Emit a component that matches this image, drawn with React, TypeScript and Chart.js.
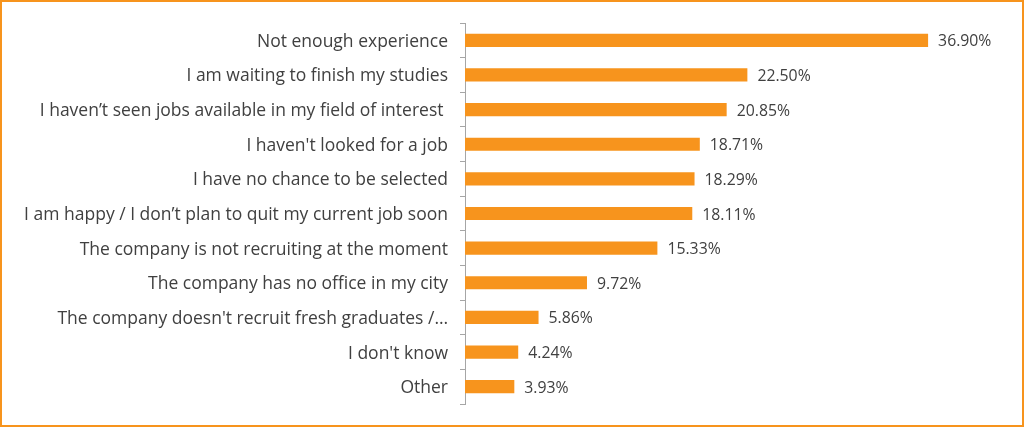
import React, { useEffect, useRef } from "react";
import { Chart, registerables } from "chart.js";

Chart.register(...registerables);

const categories = [
  "Not enough experience",
  "I am waiting to finish my studies",
  "I haven\u2019t seen jobs available in my field of interest ",
  "I haven't looked for a job",
  "I have no chance to be selected",
  "I am happy / I don\u2019t plan to quit my current job soon",
  "The company is not recruiting at the moment",
  "The company has no office in my city",
  "The company doesn't recruit fresh graduates /\u2026",
  "I don't know",
  "Other",
];

const values = [36.9, 22.5, 20.85, 18.71, 18.29, 18.11, 15.33, 9.72, 5.86, 4.24, 3.93];

const valueLabels = ["36.90%", "22.50%", "20.85%", "18.71%", "18.29%", "18.11%", "15.33%", "9.72%", "5.86%", "4.24%", "3.93%"];

const BAR_COLOR = "#F7941D";
const TEXT_COLOR = "#404040";
const AXIS_COLOR = "#A6A6A6";
const FONT = "'Open Sans', sans-serif";

const dataLabelPlugin = {
  id: "dataLabels",
  afterDatasetsDraw(chart: any) {
    const ctx = chart.ctx;
    const meta = chart.getDatasetMeta(0);
    ctx.save();
    ctx.font = `15.8px ${FONT}`;
    ctx.fillStyle = TEXT_COLOR;
    ctx.textAlign = "left";
    ctx.textBaseline = "middle";
    meta.data.forEach((bar: any, i: number) => {
      ctx.fillText(valueLabels[i], bar.x + 10, bar.y + 1.5);
    });
    ctx.restore();
  },
};

export default function App() {
  const ref = useRef<HTMLCanvasElement | null>(null);

  useEffect(() => {
    document.body.style.margin = "0";
    const chart = new Chart(ref.current as HTMLCanvasElement, {
      type: "bar",
      data: {
        labels: categories,
        datasets: [
          {
            data: values,
            backgroundColor: BAR_COLOR,
            borderWidth: 0,
            categoryPercentage: 1,
            barPercentage: 0.38,
          },
        ],
      },
      options: {
        indexAxis: "y",
        responsive: false,
        animation: false,
        layout: { padding: { left: 0, right: 57, top: 23, bottom: 23 } },
        plugins: {
          legend: { display: false },
          tooltip: { enabled: false },
        },
        scales: {
          x: { display: false, min: 0, max: 40 },
          y: {
            afterFit: (scale: any) => {
              scale.width = 465;
            },
            grid: {
              display: true,
              drawOnChartArea: false,
              drawTicks: true,
              tickLength: 5,
              color: AXIS_COLOR,
              offset: true,
            },
            border: { display: true, color: AXIS_COLOR, width: 1 },
            ticks: {
              color: TEXT_COLOR,
              font: { family: FONT, size: 17.5 },
              padding: 12,
              autoSkip: false,
              labelOffset: 1.5,
            },
          },
        },
      },
      plugins: [dataLabelPlugin],
    });
    return () => chart.destroy();
  }, []);

  return (
    <div
      style={{
        position: "fixed",
        left: 0,
        top: 0,
        width: 1024,
        height: 427,
        background: "#fff",
        boxShadow: `inset 0 0 0 2px ${BAR_COLOR}`,
      }}
    >
      <canvas ref={ref} width={1024} height={427} style={{ position: "absolute", left: 0, top: 0 }} />
    </div>
  );
}
